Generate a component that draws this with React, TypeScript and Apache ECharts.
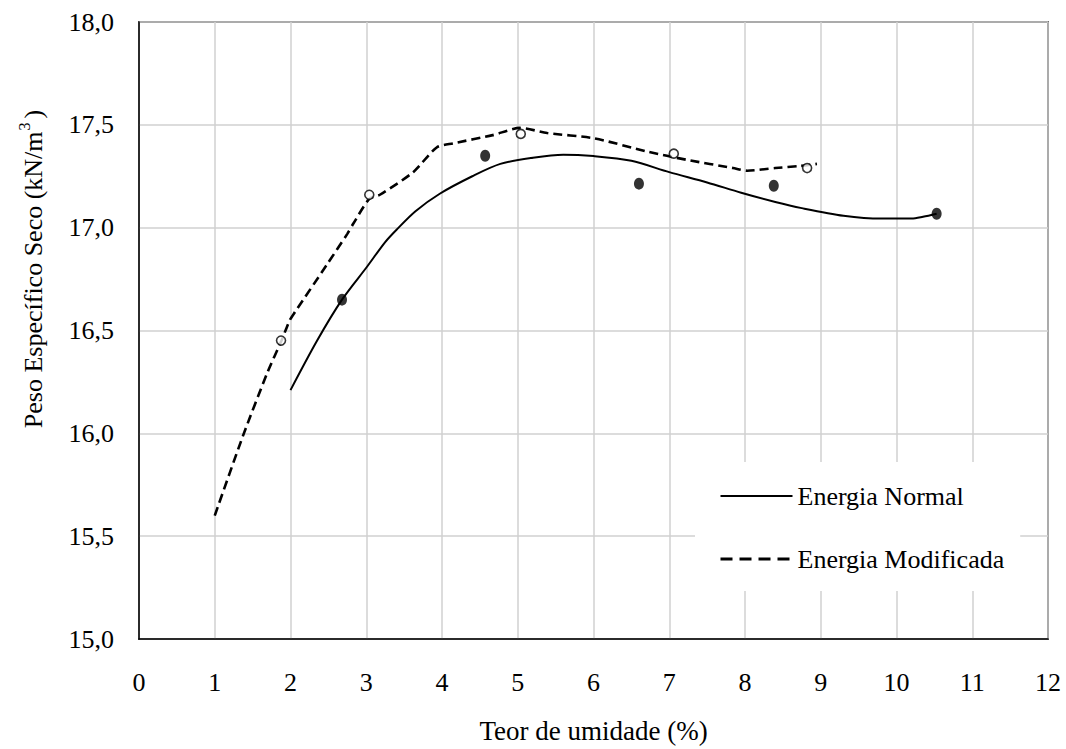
import React, { useEffect, useRef } from "react";
import * as echarts from "echarts";

// Curva ajustada - Energia Normal
const normalCurveX = [2.0, 2.35, 2.68, 3.01, 3.25, 3.4, 3.65, 3.97, 4.4, 4.77, 5.2, 5.6, 6.0, 6.5, 7.0, 7.5, 7.95, 8.4, 8.75, 9.3, 9.8, 10.2, 10.35, 10.53];
const normalCurveY = [16.21, 16.45, 16.65, 16.81, 16.93, 16.99, 17.08, 17.165, 17.25, 17.31, 17.34, 17.355, 17.348, 17.325, 17.27, 17.22, 17.17, 17.125, 17.095, 17.058, 17.044, 17.044, 17.053, 17.068];

// Curva ajustada - Energia Modificada
const modCurveX = [1.0, 1.37, 1.7, 1.88, 1.99, 2.06, 2.48, 2.75, 2.83, 3.04, 3.18, 3.62, 3.93, 4.15, 4.67, 5.03, 5.39, 6.0, 6.71, 7.23, 7.84, 8.03, 8.4, 8.73, 8.95];
const modCurveY = [15.6, 15.985, 16.3, 16.45, 16.55, 16.59, 16.82, 16.97, 17.02, 17.14, 17.16, 17.27, 17.39, 17.41, 17.45, 17.485, 17.46, 17.435, 17.37, 17.33, 17.29, 17.277, 17.29, 17.3, 17.31];

// Pontos ensaiados
const normalPointsX = [2.68, 4.57, 6.6, 8.38, 10.53];
const normalPointsY = [16.65, 17.35, 17.214, 17.204, 17.068];
const modPointsX = [1.875, 3.04, 5.04, 7.06, 8.82];
const modPointsY = [16.451, 17.16, 17.456, 17.36, 17.29];

const seriesNames = ["Energia Normal", "Energia Modificada"];
const xTitle = "Teor de umidade (%)";

const FONT = "Liberation Serif";

const zip = (xs: number[], ys: number[]) => xs.map((x, i) => [x, ys[i]]);

export default function App() {
  const ref = useRef<HTMLDivElement>(null);

  useEffect(() => {
    if (!ref.current) return;
    const chart = echarts.init(ref.current, undefined, { renderer: "svg" });
    chart.setOption({
      animation: false,
      backgroundColor: "#fff",
      textStyle: { fontFamily: FONT },
      grid: {
        left: 139,
        right: 18,
        top: 22,
        bottom: 109,
        show: true,
        borderColor: "#000",
        borderWidth: 1.5,
        backgroundColor: "transparent",
      },
      xAxis: {
        type: "value",
        min: 0,
        max: 12,
        interval: 1,
        name: xTitle,
        nameLocation: "middle",
        nameGap: 78,
        nameTextStyle: { fontFamily: FONT, fontSize: 27, color: "#000" },
        axisLine: { show: true, lineStyle: { color: "#000", width: 1.5 } },
        axisTick: { show: false },
        axisLabel: { fontFamily: FONT, fontSize: 26, color: "#000", margin: 30 },
        splitLine: { show: true, lineStyle: { color: "#d0d0d0", width: 1.5 } },
      },
      yAxis: {
        type: "value",
        min: 15,
        max: 18,
        interval: 0.5,
        axisLine: { show: true, lineStyle: { color: "#000", width: 1.5 } },
        axisTick: { show: false },
        axisLabel: {
          fontFamily: FONT,
          fontSize: 26,
          color: "#000",
          margin: 25,
          formatter: (v: number) => v.toFixed(1).replace(".", ","),
        },
        splitLine: { show: true, lineStyle: { color: "#d0d0d0", width: 1.5 } },
      },
      legend: {
        data: [
          { name: seriesNames[0], lineStyle: { width: 2.2, type: "solid" } },
          { name: seriesNames[1], lineStyle: { width: 3, type: [12, 7] } },
        ],
        orient: "vertical",
        left: 695,
        top: 462,
        backgroundColor: "#fff",
        padding: [21, 16, 19, 24],
        itemWidth: 72,
        itemHeight: 14,
        itemGap: 37,
        itemStyle: { opacity: 0 },
        textStyle: { fontFamily: FONT, fontSize: 26, color: "#000" },
      },
      graphic: [
        {
          type: "text",
          x: 31,
          y: 269,
          rotation: Math.PI / 2,
          style: {
            text: "{n|Peso Específico Seco (kN/m}{s|3}{n|)}",
            align: "center",
            verticalAlign: "middle",
            fill: "#000",
            rich: {
              n: { fontFamily: FONT, fontSize: 26, fill: "#000", lineHeight: 30, verticalAlign: "bottom" },
              s: { fontFamily: FONT, fontSize: 16, fill: "#000", lineHeight: 30, verticalAlign: "top", padding: [0, 4, 0, 1] },
            },
          },
        },
      ],
      series: [
        {
          name: seriesNames[0],
          type: "line",
          data: zip(normalCurveX, normalCurveY),
          symbol: "none",
          smooth: 0.3,
          lineStyle: { color: "#000", width: 2 },
          itemStyle: { color: "#000" },
          z: 2,
        },
        {
          name: seriesNames[1],
          type: "line",
          data: zip(modCurveX, modCurveY),
          symbol: "none",
          smooth: 0.25,
          lineStyle: { color: "#000", width: 2.6, type: [9, 5] },
          itemStyle: { color: "#000" },
          z: 2,
        },
        {
          name: "Normal (pontos)",
          type: "scatter",
          data: zip(normalPointsX, normalPointsY),
          symbol: "circle",
          symbolSize: [10, 12],
          itemStyle: { color: "#000" },
          z: 3,
        },
        {
          name: "Modificada (pontos)",
          type: "scatter",
          data: zip(modPointsX, modPointsY),
          symbol: "circle",
          symbolSize: 9,
          itemStyle: { color: "#fff", borderColor: "#000", borderWidth: 1.6 },
          z: 3,
        },
      ],
    });
    return () => chart.dispose();
  }, []);

  return (
    <div
      ref={ref}
      style={{ position: "fixed", left: 0, top: 0, width: 1066, height: 749, background: "#fff" }}
    />
  );
}
